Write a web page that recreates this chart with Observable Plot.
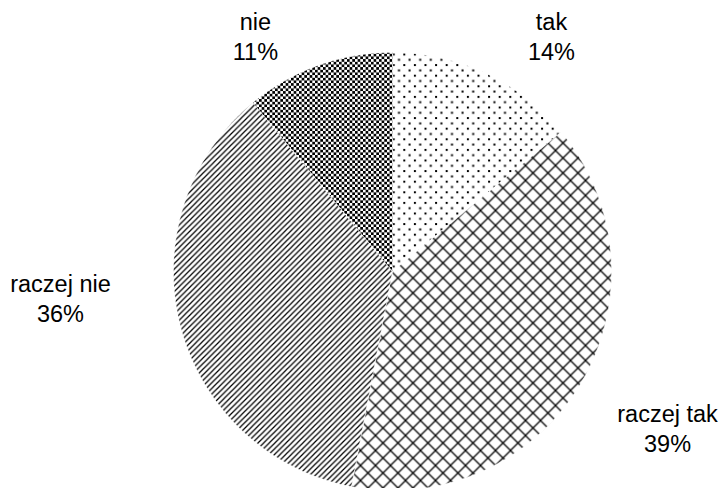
<!DOCTYPE html>
<html>
<head>
<meta charset="utf-8">
<script src="https://cdn.jsdelivr.net/npm/d3@7"></script>
<script src="https://cdn.jsdelivr.net/npm/@observablehq/plot@0.6"></script>
<style>
  html, body { margin: 0; padding: 0; background: #fff; }
  #chart svg { display: block; }
</style>
</head>
<body>
<div id="chart"></div>
<script>
// ---- data ----
const categories = ["tak", "raczej tak", "raczej nie", "nie"];
const percents = [14, 39, 36, 11];
const labels = ["tak\n14%", "raczej tak\n39%", "raczej nie\n36%", "nie\n11%"];

// ---- layout (unit-circle coordinates for label block centres) ----
const labelPos = [[0.726, 1.08], [1.256, -0.71], [-1.516, -0.12], [-0.626, 1.08]];
const patternIds = ["p-dots", "p-diamond", "p-diag", "p-check"];

const W = 724, H = 488, CX = 392, CY = 271, R = 219;

// build slice polygons from the values (clockwise from 12 o'clock)
const total = d3.sum(percents);
const slices = [];
let acc = 0;
categories.forEach((c, i) => {
  const a0 = acc / total * 2 * Math.PI;
  acc += percents[i];
  const a1 = acc / total * 2 * Math.PI;
  slices.push({cat: c, x: 0, y: 0});
  const n = Math.max(2, Math.ceil((a1 - a0) / (Math.PI / 360)));
  for (let k = 0; k <= n; k++) {
    const a = a0 + (a1 - a0) * k / n;
    slices.push({cat: c, x: Math.sin(a), y: Math.cos(a)});
  }
});

const labelData = categories.map((c, i) => ({cat: c, text: labels[i], x: labelPos[i][0], y: labelPos[i][1]}));

const plot = Plot.plot({
  width: W,
  height: H,
  margin: 0,
  style: {fontFamily: "Arial, 'Liberation Sans', sans-serif", background: "#fff"},
  x: {domain: [-1, 1], range: [CX - R, CX + R], axis: null},
  y: {domain: [-1, 1], range: [CY + R, CY - R], axis: null},
  color: {type: "ordinal", domain: categories, range: patternIds.map(id => `url(#${id})`)},
  marks: [
    Plot.line(slices, {x: "x", y: "y", z: "cat", fill: "cat", stroke: "white", strokeWidth: 0.5, curve: "linear-closed"}),
    Plot.text(labelData, {x: "x", y: "y", text: "text", fontSize: 23.5, lineHeight: 1.28, fill: "black", textAnchor: "middle", lineAnchor: "middle"})
  ]
});

// pattern definitions
const svg = d3.select(plot);
const defs = svg.insert("defs", ":first-child");
// dots
let p = defs.append("pattern").attr("id", "p-dots").attr("patternUnits", "userSpaceOnUse")
  .attr("width", 10.6).attr("height", 10.6);
p.append("rect").attr("width", 10.6).attr("height", 10.6).attr("fill", "white");
p.append("rect").attr("x", 0).attr("y", 0).attr("width", 2).attr("height", 2).attr("fill", "black");
p.append("rect").attr("x", 5.3).attr("y", 5.3).attr("width", 2).attr("height", 2).attr("fill", "black");
// diamond lattice
p = defs.append("pattern").attr("id", "p-diamond").attr("patternUnits", "userSpaceOnUse")
  .attr("width", 15).attr("height", 15);
p.append("rect").attr("width", 15).attr("height", 15).attr("fill", "white");
p.append("path").attr("d", "M-1,-1L16,16M16,-1L-1,16").attr("stroke", "black").attr("stroke-width", 1.25);
// upward diagonal
p = defs.append("pattern").attr("id", "p-diag").attr("patternUnits", "userSpaceOnUse")
  .attr("width", 5.6).attr("height", 5.6);
p.append("rect").attr("width", 5.6).attr("height", 5.6).attr("fill", "white");
p.append("path").attr("d", "M-1,6.6L6.6,-1M-1,1L1,-1M4.6,6.6L6.6,4.6").attr("stroke", "black").attr("stroke-width", 1.25);
// checker
p = defs.append("pattern").attr("id", "p-check").attr("patternUnits", "userSpaceOnUse")
  .attr("width", 5.33).attr("height", 5.33);
p.append("rect").attr("width", 5.33).attr("height", 5.33).attr("fill", "white");
p.append("rect").attr("x", 0).attr("y", 0).attr("width", 2.67).attr("height", 2.67).attr("fill", "black");
p.append("rect").attr("x", 2.67).attr("y", 2.67).attr("width", 2.67).attr("height", 2.67).attr("fill", "black");

document.getElementById("chart").appendChild(plot);
</script>
</body>
</html>
